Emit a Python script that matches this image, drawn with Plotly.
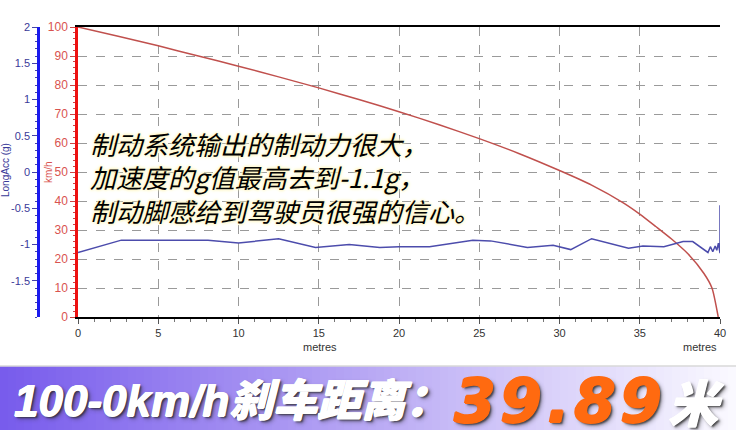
import plotly.graph_objects as go

W, H = 736, 430

# ---- data ----
dist_speed = [0, 2.5, 5, 7.5, 10, 12.5, 15, 17.5, 20, 22.5, 25, 27.5, 30, 32, 34, 35, 36, 37, 38, 39, 39.5, 39.89]
speed_kmh = [100, 96.8, 93.5, 90, 86.5, 82.8, 79, 75, 70.8, 66.3, 61.5, 56.3, 50.5, 45.5, 39.3, 35.5, 31.2, 26.8, 21.8, 15, 10, 0]

dist_acc = [0, 2.7, 8.1, 10.0, 12.5, 14.8, 16.9, 18.8, 20.0, 21.9, 24.6, 25.7, 28.0, 29.6, 30.7, 32.0, 34.3, 35.2,
            36.5, 37.7, 38.3, 39.25, 39.4, 39.55, 39.7, 39.8, 39.9, 40.0, 40.0]
long_acc_g = [-1.11, -0.94, -0.94, -0.98, -0.92, -1.04, -1.00, -1.04, -1.03, -1.03, -0.94, -0.95, -1.04, -1.01, -1.07,
              -0.92, -1.05, -1.02, -1.03, -0.96, -0.96, -1.11, -1.03, -1.10, -1.02, -1.08, -0.98, -1.12, -0.46]

x_ticks = [0, 5, 10, 15, 20, 25, 30, 35, 40]
kmh_ticks = [0, 10, 20, 30, 40, 50, 60, 70, 80, 90, 100]
g_ticks = [2, 1.5, 1, 0.5, 0, -0.5, -1, -1.5]
g_tick_text = ["2", "1.5", "1", "0.5", "0", "-0.5", "-1", "-1.5"]

note_lines = ["制动系统输出的制动力很大，", "加速度的g值最高去到-1.1g，", "制动脚感给到驾驶员很强的信心。"]
banner_main = "100-0km/h刹车距离："
banner_value = "39.89"
banner_unit = "米"


def px(x):
    return x / W


def py(y):
    return 1 - y / H


PLOT_L, PLOT_R, PLOT_T, PLOT_B = 78, 720, 27, 317

fig = go.Figure()
fig.add_trace(go.Scatter(x=dist_speed, y=speed_kmh, mode="lines",
                         line=dict(color="#c0504d", width=1.5, shape="spline", smoothing=0.6),
                         yaxis="y", showlegend=False, hoverinfo="skip"))
fig.add_trace(go.Scatter(x=dist_acc, y=long_acc_g, mode="lines",
                         line=dict(color="#4c4cac", width=1.5),
                         yaxis="y2", showlegend=False, hoverinfo="skip"))

tick_font = dict(family="Liberation Sans, Arial", size=11, color="#333333")

fig.update_layout(
    width=W, height=H,
    margin=dict(l=0, r=0, t=0, b=0),
    paper_bgcolor="white", plot_bgcolor="white",
    xaxis=dict(domain=[px(PLOT_L), px(PLOT_R)], range=[0, 40], tickvals=x_ticks,
               showline=True, linecolor="black", linewidth=1.5, mirror=True,
               ticks="outside", ticklen=5, tickcolor="#555", tickfont=tick_font,
               showgrid=True, gridcolor="#9a9a9a", griddash="dash", gridwidth=1,
               minor=dict(dtick=1, ticks="outside", ticklen=3, tickcolor="#777", showgrid=False),
               zeroline=False, automargin=False, fixedrange=True),
    yaxis=dict(domain=[py(PLOT_B), py(PLOT_T)], range=[0, 100], tickvals=kmh_ticks,
               showline=True, linecolor="#ee1111", linewidth=2.5,
               ticks="outside", ticklen=5, tickcolor="#cc4444",
               tickfont=dict(family="Liberation Sans, Arial", size=12, color="#d9534f"),
               showgrid=True, gridcolor="#9a9a9a", griddash="dash", gridwidth=1,
               minor=dict(dtick=2, ticks="outside", ticklen=2, tickcolor="#cc4444", showgrid=False),
               zeroline=False, automargin=False, fixedrange=True),
    yaxis2=dict(overlaying="y", anchor="free", position=px(38), side="left",
                range=[-2, 2], tickvals=g_ticks, ticktext=g_tick_text,
                showline=True, linecolor="#1a1aee", linewidth=2.5,
                ticks="outside", ticklen=5, tickcolor="#4444aa",
                tickfont=dict(family="Liberation Sans, Arial", size=11, color="#3a3a99"),
                minor=dict(dtick=0.1, ticks="outside", ticklen=2, tickcolor="#4444aa", showgrid=False),
                showgrid=False, zeroline=False, automargin=False, fixedrange=True),
    # right border of the frame, drawn beneath the traces
    yaxis3=dict(overlaying="y", anchor="x", side="right", range=[0, 100],
                showline=True, linecolor="black", linewidth=1.5, layer="below traces",
                showticklabels=False, ticks="", showgrid=False, zeroline=False,
                automargin=False, fixedrange=True),
    showlegend=False,
)

shapes = []
# banner gradient (stepped)
BAN_T = 366
left_c = (120, 92, 236)
mid_c = (184, 168, 244)
right_c = (250, 249, 255)
N = 92
for i in range(N):
    t = i / (N - 1)
    if t < 0.5:
        u = t / 0.5
        c = [round(left_c[k] + (mid_c[k] - left_c[k]) * u) for k in range(3)]
    else:
        u = (t - 0.5) / 0.5
        c = [round(mid_c[k] + (right_c[k] - mid_c[k]) * u) for k in range(3)]
    shapes.append(dict(type="rect", xref="paper", yref="paper",
                       x0=px(i * W / N), x1=px((i + 1) * W / N + 0.6), y0=0, y1=py(BAN_T),
                       line=dict(width=0), fillcolor=f"rgb({c[0]},{c[1]},{c[2]})", layer="below"))
shapes.append(dict(type="line", xref="paper", yref="paper", x0=0, x1=1, y0=py(BAN_T), y1=py(BAN_T),
                   line=dict(color="#d8d8d8", width=1.5)))
fig.update_layout(shapes=shapes)

ann = []
# axis titles
ann.append(dict(text="km/h", xref="paper", yref="paper", x=px(48), y=py(172), showarrow=False, textangle=-90,
                xanchor="center", yanchor="middle",
                font=dict(family="Liberation Sans, Arial", size=10, color="#d9534f")))
ann.append(dict(text="LongAcc (g)", xref="paper", yref="paper", x=px(5), y=py(170), showarrow=False, textangle=-90,
                xanchor="center", yanchor="middle",
                font=dict(family="Liberation Sans, Arial", size=10, color="#3a3a99")))
# "metres" labels
for xm in [320, 700]:
    ann.append(dict(text="metres", xref="paper", yref="paper", x=px(xm), y=py(347), showarrow=False,
                    xanchor="center", yanchor="middle", font=dict(family="Liberation Sans, Arial", size=11, color="#333")))

# note text
for yl, line in zip([143, 177, 210], note_lines):
    ann.append(dict(text=line, xref="paper", yref="paper", x=px(88), y=py(yl), showarrow=False,
                    xanchor="left", yanchor="middle",
                    font=dict(family="Noto Sans CJK SC", size=26, color="black", style="italic",
                              shadow="0 0 3px #fff6c0, 0 0 3px #fff6c0, 0 0 4px #fff6c0")))

# banner text
white_shadow = ("0.8px 0 0 #ffffff, -0.5px 0 0 #ffffff, 0 0.6px 0 #ffffff, "
                "2px 2px 2px rgba(40,40,40,0.75), 3px 3px 4px rgba(40,40,40,0.4)")
orange = "#ff6a10"
orange_shadow = (f"1px 0 0 {orange}, -1px 0 0 {orange}, 0 1px 0 {orange}, 0 -0.6px 0 {orange}, "
                 "2px 2px 2px rgba(40,40,40,0.75), 3px 3px 4px rgba(40,40,40,0.4)")
ann.append(dict(text=banner_main, xref="paper", yref="paper", x=px(12), y=py(400), showarrow=False,
                xanchor="left", yanchor="middle",
                font=dict(family="Liberation Sans, Noto Sans CJK SC", size=44, weight=900, style="italic",
                          shadow=white_shadow, color="white")))
value_centers = [475, 521, 558, 595, 641]
for ch, xc in zip(banner_value, value_centers):
    ann.append(dict(text=ch, xref="paper", yref="paper", x=px(xc), y=py(401), showarrow=False,
                    xanchor="center", yanchor="middle",
                    font=dict(family="DejaVu Sans", size=60, weight="bold", style="italic",
                              shadow=orange_shadow, color=orange)))
ann.append(dict(text=banner_unit, xref="paper", yref="paper", x=px(696), y=py(400), showarrow=False,
                xanchor="center", yanchor="middle",
                font=dict(family="Noto Sans CJK SC", size=50, weight=900, style="italic",
                          shadow=white_shadow, color="white")))
fig.update_layout(annotations=ann)

fig.write_html("out.html", config={"displayModeBar": False},
               post_script="document.body.style.margin='0';document.body.style.padding='0';")
